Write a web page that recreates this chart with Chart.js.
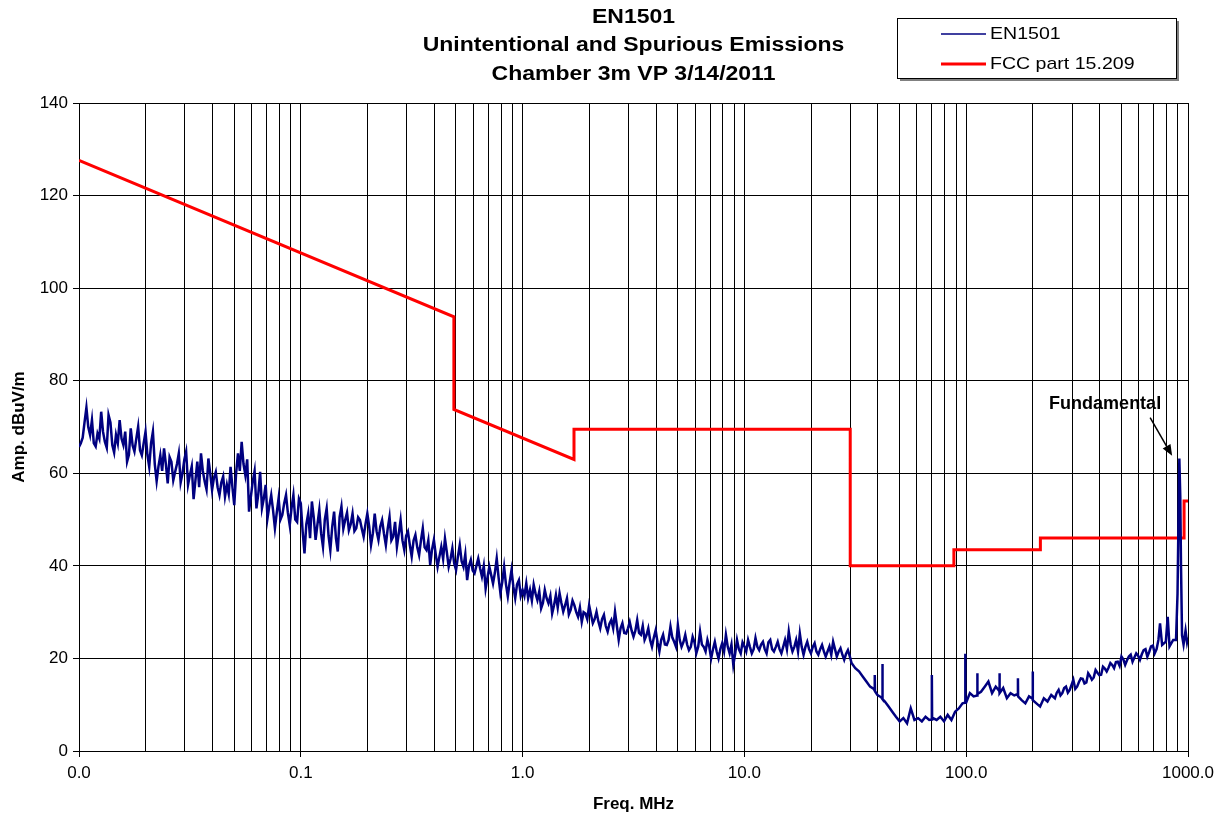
<!DOCTYPE html>
<html lang="en">
<head>
    <meta charset="UTF-8">
    <title>EN1501 Emissions</title>
    <script src="https://cdn.jsdelivr.net/npm/chart.js"></script>
    <style>
        html, body { margin: 0; padding: 0; background: #fff; }
        .container { position: relative; width: 1225px; height: 818px; }
    </style>
</head>
<body>
    <div class="container">
        <canvas id="myChart" width="1225" height="818"></canvas>
    </div>

    <script>
        // ---- chart text ----
        const titleLines = ['EN1501', 'Unintentional and Spurious Emissions', 'Chamber 3m VP 3/14/2011'];
        const seriesNames = ['EN1501', 'FCC part 15.209'];

        // ---- axes ----
        const decadeTicks = [0.01, 0.1, 1, 10, 100, 1000];
        const decadeLabels = ['0.0', '0.1', '1.0', '10.0', '100.0', '1000.0'];
        const gridMultipliers = [1, 2, 3, 4, 5, 6, 7, 8, 9];

        const dec1Freq = [0.01, 0.01039, 0.0108, 0.01122, 0.01166, 0.01212, 0.01259, 0.01308, 0.01359, 0.01413,
            0.01468, 0.01525, 0.01585, 0.01647, 0.01711, 0.01778, 0.01848, 0.0192, 0.01995, 0.02073,
            0.02154, 0.02239, 0.02326, 0.02418, 0.02512, 0.0261, 0.02712, 0.02818, 0.02929, 0.03041,
            0.03162, 0.03286, 0.03415, 0.03548, 0.03687, 0.03831, 0.03981, 0.04137, 0.04299, 0.04467,
            0.04642, 0.04823, 0.05012, 0.05208, 0.05412, 0.05623, 0.05843, 0.06072, 0.0631, 0.06556,
            0.06813, 0.07079, 0.07356, 0.07644, 0.07943, 0.08254, 0.08577, 0.08913, 0.09261, 0.09624];
        const dec1Amp = [65.7, 67.7, 74.2, 68.3, 66.5, 68.6, 73.3, 66.8, 72.6, 66.1,
            68.3, 71.5, 66.1, 62.5, 69.7, 64.7, 70.1, 63.9, 69.0, 61.4,
            69.0, 58.3, 63.9, 65.4, 57.8, 62.5, 60.3, 64.3, 60.0, 64.7,
            59.6, 54.4, 62.5, 64.3, 58.2, 63.2, 56.4, 60.3, 55.3, 59.3,
            57.5, 61.4, 53.1, 64.3, 66.8, 59.6, 51.7, 58.2, 52.4, 60.3,
            54.6, 50.3, 55.3, 48.1, 54.6, 51.0, 55.3, 48.8, 55.3, 49.5];
        const dec1MidFreq = [0.01019, 0.01059, 0.01101, 0.01144, 0.01189, 0.01235, 0.01283, 0.01334, 0.01386, 0.0144,
            0.01496, 0.01555, 0.01616, 0.01679, 0.01745, 0.01813, 0.01884, 0.01957, 0.02034, 0.02113,
            0.02196, 0.02282, 0.02371, 0.02464, 0.02561, 0.02661, 0.02765, 0.02873, 0.02985, 0.03102,
            0.03224, 0.0335, 0.03481, 0.03617, 0.03758, 0.03905, 0.04058, 0.04217, 0.04382, 0.04553,
            0.04732, 0.04917, 0.05109, 0.05309, 0.05517, 0.05732, 0.05957, 0.0619, 0.06432, 0.06683,
            0.06945, 0.07217, 0.07499, 0.07792, 0.08097, 0.08414, 0.08743, 0.09085, 0.09441, 0.0981];
        const dec1MidAmp = [66.5, 71.0, 70.0, 71.5, 65.8, 67.5, 69.0, 65.5, 71.0, 64.5,
            66.5, 67.5, 69.0, 64.0, 66.0, 67.5, 65.0, 66.5, 64.0, 66.5,
            62.0, 61.5, 60.5, 62.0, 63.5, 58.5, 62.0, 58.0, 63.0, 57.5,
            61.5, 58.5, 57.0, 60.5, 56.5, 60.0, 59.0, 57.0, 58.0, 55.0,
            55.5, 57.0, 60.0, 60.5, 62.0, 63.0, 55.0, 60.5, 55.5, 52.5,
            57.5, 53.0, 52.0, 51.5, 50.0, 53.5, 51.5, 52.5, 50.0, 54.5];

        const dec2Freq = [0.1, 0.1039, 0.108, 0.1122, 0.1166, 0.1212, 0.1259, 0.1308, 0.1359, 0.1413,
            0.1468, 0.1525, 0.1585, 0.1647, 0.1711, 0.1778, 0.1848, 0.192, 0.1995, 0.2073,
            0.2154, 0.2239, 0.2326, 0.2418, 0.2512, 0.261, 0.2712, 0.2818, 0.2929, 0.3041,
            0.3162, 0.3286, 0.3415, 0.3548, 0.3687, 0.3831, 0.3981, 0.4137, 0.4299, 0.4467,
            0.4642, 0.4823, 0.5012, 0.5208, 0.5412, 0.5623, 0.5843, 0.6072, 0.631, 0.6556,
            0.6813, 0.7079, 0.7356, 0.7644, 0.7943, 0.8254, 0.8577, 0.8913, 0.9261, 0.9624];
        const dec2Amp = [53.5, 42.7, 51.3, 53.9, 45.6, 52.1, 44.1, 52.4, 43.4, 51.7,
            43.1, 52.8, 49.9, 47.7, 51.3, 48.1, 49.9, 46.3, 51.3, 44.5,
            51.3, 45.6, 49.9, 44.5, 50.6, 46.3, 44.1, 49.9, 43.4, 47.4,
            42.0, 46.7, 42.3, 48.1, 43.4, 40.2, 45.6, 39.8, 44.1, 45.9,
            39.8, 43.8, 39.1, 44.5, 39.8, 36.9, 41.3, 38.4, 41.6, 37.7,
            35.1, 39.8, 36.2, 41.6, 34.1, 39.8, 33.4, 39.1, 33.0, 36.9];
        const dec2MidFreq = [0.1019, 0.1059, 0.1101, 0.1144, 0.1189, 0.1235, 0.1283, 0.1334, 0.1386, 0.144,
            0.1496, 0.1555, 0.1616, 0.1679, 0.1745, 0.1813, 0.1884, 0.1957, 0.2034, 0.2113,
            0.2196, 0.2282, 0.2371, 0.2464, 0.2561, 0.2661, 0.2765, 0.2873, 0.2985, 0.3102,
            0.3224, 0.335, 0.3481, 0.3617, 0.3758, 0.3905, 0.4058, 0.4217, 0.4382, 0.4553,
            0.4732, 0.4917, 0.5109, 0.5309, 0.5517, 0.5732, 0.5957, 0.619, 0.6432, 0.6683,
            0.6945, 0.7217, 0.7499, 0.7792, 0.8097, 0.8414, 0.8743, 0.9085, 0.9441, 0.981];
        const dec2MidAmp = [47.5, 49.0, 46.0, 50.5, 49.0, 47.0, 50.0, 46.5, 48.5, 46.0,
            50.5, 48.0, 51.5, 49.0, 47.5, 50.5, 48.0, 49.0, 48.5, 47.0,
            47.5, 48.5, 47.0, 48.0, 45.5, 49.5, 47.0, 45.5, 46.5, 44.5,
            45.5, 44.0, 45.5, 44.0, 45.5, 43.5, 42.5, 42.0, 41.5, 43.0,
            41.5, 40.5, 42.0, 41.0, 42.5, 40.0, 39.0, 40.0, 39.5, 40.0,
            37.5, 38.0, 38.5, 37.5, 36.5, 36.0, 36.5, 35.5, 36.0, 33.5];

        const dec3Freq = [1, 1.039, 1.08, 1.122, 1.166, 1.212, 1.259, 1.308, 1.359, 1.413,
            1.468, 1.525, 1.585, 1.647, 1.711, 1.778, 1.848, 1.92, 1.995, 2.073,
            2.154, 2.239, 2.326, 2.418, 2.512, 2.61, 2.712, 2.818, 2.929, 3.041,
            3.162, 3.286, 3.415, 3.548, 3.687, 3.831, 3.981, 4.137, 4.299, 4.467,
            4.642, 4.823, 5.012, 5.208, 5.412, 5.623, 5.843, 6.072, 6.31, 6.556,
            6.813, 7.079, 7.356, 7.644, 7.943, 8.254, 8.577, 8.913, 9.261, 9.624];
        const dec3Amp = [34.8, 36.2, 34.8, 35.9, 32.6, 30.8, 34.8, 31.9, 29.7, 33.7,
            34.1, 30.1, 33.0, 30.5, 31.5, 29.0, 27.9, 29.7, 31.5, 27.6,
            30.1, 26.5, 29.4, 25.8, 28.3, 30.1, 24.0, 27.6, 25.4, 27.9,
            24.7, 28.3, 25.1, 24.0, 26.5, 22.5, 26.1, 21.5, 25.1, 22.9,
            26.9, 23.6, 27.2, 22.5, 25.1, 21.8, 24.7, 21.1, 25.8, 22.5,
            24.0, 20.0, 23.6, 20.0, 23.3, 25.1, 21.1, 18.6, 24.0, 21.1];
        const dec3MidFreq = [1.019, 1.059, 1.101, 1.144, 1.189, 1.235, 1.283, 1.334, 1.386, 1.44,
            1.496, 1.555, 1.616, 1.679, 1.745, 1.813, 1.884, 1.957, 2.034, 2.113,
            2.196, 2.282, 2.371, 2.464, 2.561, 2.661, 2.765, 2.873, 2.985, 3.102,
            3.224, 3.35, 3.481, 3.617, 3.758, 3.905, 4.058, 4.217, 4.382, 4.553,
            4.732, 4.917, 5.109, 5.309, 5.517, 5.732, 5.957, 6.19, 6.432, 6.683,
            6.945, 7.217, 7.499, 7.792, 8.097, 8.414, 8.743, 9.085, 9.441, 9.81];
        const dec3MidAmp = [33.5, 33.0, 32.5, 34.0, 34.5, 32.0, 33.0, 33.5, 31.5, 31.0,
            32.0, 31.5, 29.5, 32.5, 30.0, 31.0, 30.0, 28.5, 29.5, 28.5,
            28.0, 28.5, 27.0, 27.5, 26.5, 27.0, 26.5, 25.5, 26.5, 26.0,
            26.0, 25.5, 27.0, 25.0, 24.0, 24.5, 23.5, 24.0, 23.0, 24.0,
            24.5, 22.5, 24.0, 23.5, 23.0, 22.5, 23.5, 22.5, 23.0, 21.5,
            22.5, 22.0, 21.5, 22.0, 21.5, 22.5, 23.0, 21.0, 22.0, 23.5];

        const dec4Freq = [10, 10.39, 10.8, 11.22, 11.66, 12.12, 12.59, 13.08, 13.59, 14.13,
            14.68, 15.25, 15.85, 16.47, 17.11, 17.78, 18.48, 19.2, 19.95, 20.73,
            21.54, 22.39, 23.26, 24.18, 25.12, 26.1, 27.12, 28.18, 29.29, 30.41,
            31.62, 32.86, 34.15, 35.48, 36.87, 38.31,
            38.6, 38.7, 38.8,
            39.81, 41.37,
            41.8, 41.9, 42.0,
            42.99, 44.67, 46.42, 48.23, 50.12, 52.08, 54.12, 56.23, 58.43, 60.72, 63.1, 65.56, 68.13,
            69.8, 70.0, 70.2,
            70.79, 73.56, 76.44, 79.43, 82.54, 85.77, 89.13, 92.61, 96.24,
            98.8, 99.0, 99.2];
        const dec4Amp = [22.6, 24.0, 21.1, 24.4, 21.8, 23.6, 21.1, 24.0, 21.5, 23.6,
            21.1, 24.0, 25.8, 21.5, 24.0, 25.4, 20.8, 23.6, 21.1, 23.3,
            20.8, 22.9, 20.4, 22.6, 23.6, 20.4, 22.2, 19.7, 21.8, 19.0,
            17.9, 17.2, 16.1, 15.0, 13.9, 13.4,
            13.1, 16.4, 12.9,
            12.1, 11.6,
            11.3, 18.8, 11.2,
            10.7, 9.6, 8.5, 7.4, 6.4, 7.1, 6.0, 9.2, 6.7, 7.1, 6.4, 7.4, 6.7,
            6.8, 16.4, 6.9,
            7.1, 6.7, 7.4, 6.4, 7.8, 6.7, 8.5, 9.2, 10.3,
            10.4, 21.0, 10.5];
        const dec4MidFreq = [10.19, 10.59, 11.01, 11.44, 11.89, 12.35, 12.83, 13.34, 13.86, 14.4,
            14.96, 15.55, 16.16, 16.79, 17.45, 18.13, 18.84, 19.57, 20.34, 21.13,
            21.96, 22.82, 23.71, 24.64, 25.61, 26.61, 27.65, 28.73, 29.85];
        const dec4MidAmp = [21.5, 22.5, 22.0, 22.5, 23.0, 22.0, 23.5, 22.0, 22.5, 22.0,
            22.5, 22.0, 23.0, 22.5, 21.5, 22.5, 22.5, 22.0, 22.5, 21.5,
            22.0, 21.5, 21.5, 20.8, 22.0, 21.5, 20.8, 21.0, 20.5];

        const dec5Freq = [100, 103.9, 108,
            111.9, 112.2, 112.5,
            116.6, 121.2, 125.9, 130.8, 135.9,
            141.0, 141.3, 141.6,
            146.8, 152.5, 158.5, 164.7,
            170.8, 171.1, 171.4,
            177.8, 184.8, 192,
            199.2, 199.5, 199.8,
            207.3, 215.4, 223.9, 232.6, 241.8, 251.2, 261, 271.2, 281.8, 292.9,
            304.1, 316.2, 328.6, 341.5, 354.8, 368.7, 383.1, 398.1, 413.7, 429.9,
            446.7, 464.2, 482.3, 501.2, 520.8, 541.2, 562.3, 584.3, 607.2, 631,
            655.6, 681.3, 707.9, 735.6,
            748, 764.4, 794.3, 810, 825.4, 857.7,
            883, 897, 906, 914, 923, 930, 940,
            955, 975, 990, 1000];
        const dec5Amp = [10.5, 12.5, 11.8,
            12.0, 16.8, 12.3,
            12.8, 13.9, 15.0, 12.5, 13.9,
            13.0, 16.8, 12.5,
            13.6, 11.4, 12.5, 12.0,
            12.3, 15.7, 11.8,
            11.0, 10.3, 11.8,
            11.3, 17.2, 11.0,
            10.3, 9.6, 11.4, 10.7, 12.1, 11.4, 13.2, 12.5, 13.9, 13.2,
            15.4, 13.9, 15.7, 14.6, 16.8, 15.4, 17.5, 16.4, 18.2, 17.2,
            19.0, 17.9, 19.3, 20.4, 18.6, 20.4, 19.3, 21.1, 19.7, 21.8,
            20.4, 22.6, 21.1, 24.0,
            27.6, 22.9, 23.6, 29.0, 22.6, 24.0,
            24.0, 34.0, 50.0, 63.2, 55.0, 40.0, 25.0,
            23.0, 26.0, 23.5, 24.5];
        const dec5MidFreq = [256.1, 266.1, 276.5, 287.3, 298.5, 310.2, 322.4, 335.0, 348.1, 361.7,
            375.8, 390.5, 405.8, 421.7, 438.2, 455.3, 473.2, 491.7, 510.9, 530.9,
            551.7, 573.2, 595.7, 619.0, 643.2, 668.3, 694.5, 721.7];
        const dec5MidAmp = [12.6, 12.0, 13.6, 12.6, 14.3, 13.4, 14.9, 15.6, 14.8, 16.2,
            15.9, 16.9, 16.5, 17.8, 18.0, 18.6, 19.2, 18.4, 19.8, 19.6,
            20.8, 20.2, 20.6, 20.9, 22.0, 21.4, 22.8, 22.0];

        // ---- FCC part 15.209 limit (MHz, dBuV/m at 3 m) ----
        const fccFreq = [0.01, 0.49, 0.49, 1.705, 1.705, 30, 30, 88, 88, 216, 216, 960, 960, 1000];
        const fccAmp = [127.6, 93.8, 73.8, 63.0, 69.5, 69.5, 40, 40, 43.5, 43.5, 46, 46, 54, 54];

        // ---- annotation ----
        const fundamentalText = 'Fundamental';
        const fundamentalTextAt = [423, 75];      // MHz, dBuV/m
        const fundamentalArrow = [[675, 72], [848, 63.8]];

        const enFreq = [].concat(dec1Freq, dec1MidFreq, dec2Freq, dec2MidFreq, dec3Freq, dec3MidFreq,
            dec4Freq, dec4MidFreq, dec5Freq, dec5MidFreq);
        const enAmp = [].concat(dec1Amp, dec1MidAmp, dec2Amp, dec2MidAmp, dec3Amp, dec3MidAmp,
            dec4Amp, dec4MidAmp, dec5Amp, dec5MidAmp);
        const enPoints = enFreq.map((f, i) => ({ x: f, y: enAmp[i] })).sort((a, b) => a.x - b.x);

        const gridFreqs = [];
        decadeTicks.forEach(d => {
            gridMultipliers.forEach(m => {
                if (d * m <= 1000) gridFreqs.push(+(d * m).toPrecision(3));
            });
        });

        const isDecade = v => decadeTicks.some(d => Math.abs(d - v) / d < 1e-6);

        const FONT = '"Liberation Sans", Arial, sans-serif';
        Chart.defaults.font.family = FONT;
        Chart.defaults.color = '#000';

        // Excel stretches the title and legend text a little horizontally
        function wideText(c, text, x, y, sx) {
            c.save();
            c.translate(x, y);
            c.scale(sx, 1);
            c.fillText(text, 0, 0);
            c.restore();
        }

        // title, legend box and the "Fundamental" callout
        const decorPlugin = {
            id: 'decor',
            afterDraw(chart) {
                const { ctx, chartArea, scales } = chart;
                ctx.save();
                ctx.fillStyle = '#000';
                ctx.textBaseline = 'middle';

                // title
                ctx.font = 'bold 20px ' + FONT;
                ctx.textAlign = 'center';
                const cx = (chartArea.left + chartArea.right) / 2;
                titleLines.forEach((t, i) => wideText(ctx, t, cx, 17 + i * 28.5, 1.15));

                // legend
                const lx = 897, ly = 18, lw = 279, lh = 60;
                const legendLineWidths = [1.5, 3];
                ctx.fillStyle = '#808080';
                ctx.fillRect(lx + 3, ly + 3, lw, lh);
                ctx.fillStyle = '#fff';
                ctx.fillRect(lx, ly, lw, lh);
                ctx.strokeStyle = '#000';
                ctx.lineWidth = 1;
                ctx.strokeRect(lx + 0.5, ly + 0.5, lw, lh);
                ctx.font = '17px ' + FONT;
                ctx.textAlign = 'left';
                chart.data.datasets.forEach((ds, i) => {
                    const yy = ly + 16 + i * 30;
                    ctx.strokeStyle = ds.borderColor;
                    ctx.lineWidth = legendLineWidths[i];
                    ctx.beginPath();
                    ctx.moveTo(lx + 44, yy);
                    ctx.lineTo(lx + 89, yy);
                    ctx.stroke();
                    ctx.fillStyle = '#000';
                    wideText(ctx, ds.label, lx + 93, yy, 1.15);
                });

                // callout
                const xs = scales.x, ys = scales.y;
                ctx.font = 'bold 18px ' + FONT;
                ctx.textAlign = 'center';
                ctx.fillText(fundamentalText, xs.getPixelForValue(fundamentalTextAt[0]), ys.getPixelForValue(fundamentalTextAt[1]));
                const x0 = xs.getPixelForValue(fundamentalArrow[0][0]), y0 = ys.getPixelForValue(fundamentalArrow[0][1]);
                const x1 = xs.getPixelForValue(fundamentalArrow[1][0]), y1 = ys.getPixelForValue(fundamentalArrow[1][1]);
                const ang = Math.atan2(y1 - y0, x1 - x0);
                ctx.strokeStyle = '#000';
                ctx.lineWidth = 1.5;
                ctx.beginPath();
                ctx.moveTo(x0, y0);
                ctx.lineTo(x1 - 8 * Math.cos(ang), y1 - 8 * Math.sin(ang));
                ctx.stroke();
                ctx.beginPath();
                ctx.moveTo(x1, y1);
                ctx.lineTo(x1 - 11 * Math.cos(ang) + 4.5 * Math.sin(ang), y1 - 11 * Math.sin(ang) - 4.5 * Math.cos(ang));
                ctx.lineTo(x1 - 11 * Math.cos(ang) - 4.5 * Math.sin(ang), y1 - 11 * Math.sin(ang) + 4.5 * Math.cos(ang));
                ctx.closePath();
                ctx.fill();
                ctx.restore();
            }
        };

        const ctx = document.getElementById('myChart').getContext('2d');
        const myChart = new Chart(ctx, {
            type: 'line',
            data: {
                datasets: [
                    {
                        label: seriesNames[0],
                        data: enPoints,
                        borderColor: '#000080',
                        borderWidth: 2.5,
                        pointRadius: 0,
                        tension: 0
                    },
                    {
                        label: seriesNames[1],
                        data: fccFreq.map((f, i) => ({ x: f, y: fccAmp[i] })),
                        borderColor: '#ff0000',
                        borderWidth: 3,
                        pointRadius: 0,
                        tension: 0
                    }
                ]
            },
            options: {
                responsive: false,
                animation: false,
                devicePixelRatio: 1,
                layout: { padding: { top: 103, right: 37, left: 0, bottom: 0 } },
                plugins: {
                    legend: { display: false },
                    title: { display: false },
                    tooltip: { enabled: false }
                },
                scales: {
                    x: {
                        type: 'logarithmic',
                        min: 0.01,
                        max: 1000,
                        afterBuildTicks: scale => {
                            scale.ticks = gridFreqs.map(v => ({ value: v }));
                        },
                        afterFit: scale => { scale.height = 67; },
                        ticks: {
                            autoSkip: false,
                            maxRotation: 0,
                            padding: 6,
                            font: { size: 17 },
                            callback: value => {
                                const i = decadeTicks.findIndex(d => Math.abs(d - value) / d < 1e-6);
                                return i >= 0 ? decadeLabels[i] : '';
                            }
                        },
                        grid: {
                            color: '#000',
                            lineWidth: 1,
                            tickLength: 6,
                            tickColor: c => (c.tick && isDecade(c.tick.value)) ? '#000' : 'rgba(0,0,0,0)'
                        },
                        border: { color: '#000', width: 1 },
                        title: {
                            display: true,
                            text: 'Freq. MHz',
                            font: { size: 17, weight: 'bold' },
                            padding: { top: 0, bottom: 3 }
                        }
                    },
                    y: {
                        min: 0,
                        max: 140,
                        afterFit: scale => { scale.width = 79; },
                        ticks: { stepSize: 20, padding: 5, font: { size: 17 } },
                        grid: { color: '#000', lineWidth: 1, tickLength: 6 },
                        border: { color: '#000', width: 1 },
                        title: {
                            display: true,
                            text: 'Amp. dBuV/m',
                            font: { size: 17, weight: 'bold' },
                            padding: { top: 9, bottom: 0 }
                        }
                    }
                }
            },
            plugins: [decorPlugin]
        });
    </script>
</body>
</html>
